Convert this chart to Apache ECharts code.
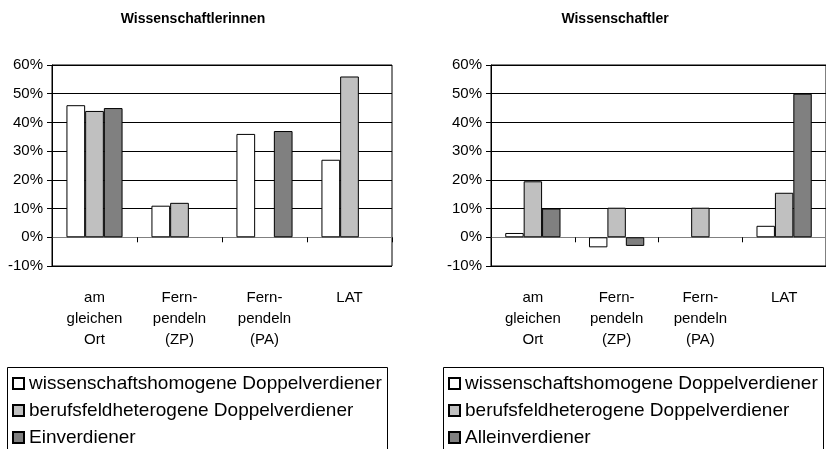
<!DOCTYPE html>
<html>
<head>
<meta charset="utf-8">
<title>Wissenschaftlerinnen / Wissenschaftler</title>
<script src="https://cdn.jsdelivr.net/npm/echarts@6/dist/echarts.min.js"></script>
<style>
  html, body { margin: 0; padding: 0; background: #fff; }
  #chart { width: 826px; height: 449px; }
</style>
</head>
<body>
<div id="chart"></div>
<script>
const categories = ["am\ngleichen\nOrt", "Fern-\npendeln\n(ZP)", "Fern-\npendeln\n(PA)", "LAT"];
const yTicks = [-10, 0, 10, 20, 30, 40, 50, 60];

// Wissenschaftlerinnen (in %)
const femaleHomogen = [46, 11, 36, 27];
const femaleHetero = [44, 12, null, 56];
const femaleSingle = [45, null, 37, null];

// Wissenschaftler (in %)
const maleHomogen = [1.5, -3.5, null, 4];
const maleHetero = [19.5, 10.3, 10.3, 15.5];
const maleSingle = [10, -3, null, 50];

const nameHomogen = "wissenschaftshomogene Doppelverdiener";
const nameHetero = "berufsfeldheterogene Doppelverdiener";
const nameSingleF = "Einverdiener";
const nameSingleM = "Alleinverdiener";

const font = "Liberation Sans, Arial, sans-serif";
const colors = { homogen: "#ffffff", hetero: "#c0c0c0", single: "#808080" };

let chart = echarts.init(document.getElementById("chart"));

function makeYAxis(gridIndex) {
  return {
    type: "value",
    gridIndex: gridIndex,
    min: yTicks[0],
    max: yTicks[yTicks.length - 1],
    interval: 10,
    axisLine: { show: true, lineStyle: { color: "#000", width: 1 } },
    axisTick: { show: true, length: 5, lineStyle: { color: "#000" } },
    axisLabel: {
      formatter: "{value}%",
      color: "#000",
      fontFamily: font,
      fontSize: 15,
      margin: 9
    },
    splitLine: { show: true, lineStyle: { color: "#000", width: 1 } }
  };
}

function makeXAxis(gridIndex) {
  return {
    type: "category",
    gridIndex: gridIndex,
    data: categories,
    axisLine: { show: true, onZero: true, lineStyle: { color: "#808080", width: 1 } },
    axisTick: { show: true, length: 5, lineStyle: { color: "#000" } },
    axisLabel: {
      color: "#000",
      fontFamily: font,
      fontSize: 15,
      lineHeight: 21,
      margin: 21,
      interval: 0
    },
    splitLine: { show: false }
  };
}

function makeBar(name, data, color, idx) {
  return {
    name: name,
    type: "bar",
    xAxisIndex: idx,
    yAxisIndex: idx,
    data: data,
    barGap: "0%",
    barCategoryGap: "34%",
    itemStyle: { color: color, borderColor: "#000", borderWidth: 1 },
    emphasis: { disabled: true }
  };
}

function makeLegend(left, names) {
  return {
    orient: "vertical",
    left: left,
    top: 374,
    height: 120,
    padding: 0,
    data: names,
    icon: "rect",
    itemWidth: 11,
    itemHeight: 11,
    itemGap: 8,
    selectedMode: false,
    textStyle: { fontFamily: font, fontSize: 19, lineHeight: 18, color: "#000" }
  };
}

let option = {
  animation: false,
  backgroundColor: "#fff",
  title: [
    {
      text: "Wissenschaftlerinnen",
      left: 188,
      top: 7,
      textAlign: "center",
      textStyle: { fontFamily: font, fontSize: 14, fontWeight: "bold", color: "#000" }
    },
    {
      text: "Wissenschaftler",
      left: 610,
      top: 7,
      textAlign: "center",
      textStyle: { fontFamily: font, fontSize: 14, fontWeight: "bold", color: "#000" }
    }
  ],
  grid: [
    { left: 52, top: 65, width: 340, height: 201, show: true, borderColor: "#000", borderWidth: 1, backgroundColor: "#fff" },
    { left: 491, top: 65, width: 340, height: 201, show: true, borderColor: "#000", borderWidth: 1, backgroundColor: "#fff" }
  ],
  xAxis: [makeXAxis(0), makeXAxis(1)],
  yAxis: [makeYAxis(0), makeYAxis(1)],
  legend: [
    makeLegend(12, [nameHomogen, nameHetero, nameSingleF]),
    makeLegend(448, [nameHomogen, nameHetero, nameSingleM])
  ],
  graphic: [
    { type: "rect", shape: { x: 7.5, y: 367.5, width: 380, height: 100 }, style: { fill: "none", stroke: "#000", lineWidth: 1 }, z: -1 },
    { type: "rect", shape: { x: 443.5, y: 367.5, width: 380, height: 100 }, style: { fill: "none", stroke: "#000", lineWidth: 1 }, z: -1 }
  ],
  series: [
    makeBar(nameHomogen, femaleHomogen, colors.homogen, 0),
    makeBar(nameHetero, femaleHetero, colors.hetero, 0),
    makeBar(nameSingleF, femaleSingle, colors.single, 0),
    makeBar(nameHomogen, maleHomogen, colors.homogen, 1),
    makeBar(nameHetero, maleHetero, colors.hetero, 1),
    makeBar(nameSingleM, maleSingle, colors.single, 1)
  ]
};

chart.setOption(option);
</script>
</body>
</html>
